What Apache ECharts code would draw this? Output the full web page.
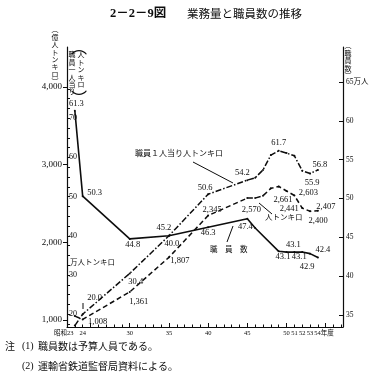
<!DOCTYPE html>
<html><head><meta charset="utf-8">
<script src="https://cdn.jsdelivr.net/npm/echarts@6/dist/echarts.min.js"></script>
<style>html,body{margin:0;padding:0;background:#fff}#c{width:374px;height:380px}</style>
</head><body><div id="c"></div>
<script>
// ---- data (昭和 年度) ----
const staffYears  = [23,24,30,35,40,45,46,49,50,51,52,53,54];
const staffValues = [61.3,50.3,44.8,45.2,46.3,47.4,46.2,43.2,43.1,43.1,43.1,42.9,42.4];          // 職員数 (万人)
const tonkmYears  = [23,24,30,35,40,45,46,47,48,49,50,51,52,53,54];
const tonkmValues = [1050,1008,1361,1807,2345,2570,2570,2600,2695,2720,2661,2603,2441,2400,2407]; // 人トンキロ (億)
const perYears    = [23,24,30,35,40,45,46,47,48,49,50,51,52,53,54];
const perValues   = [17.1,20.0,30.4,40.0,50.6,54.2,54.8,56.8,60.6,61.7,61.1,60.4,56.6,55.9,56.8]; // 職員1人当り (万人トンキロ)
const xLabelYears = [23,24,30,35,40,45,50,51,52,53,54];
const staffTicks  = [35,40,45,50,55,60,65];
const tonkmTicks  = [1000,2000,3000,4000];
const perTicks    = [20,30,40,50,60,70];

// ---- styling: label offsets keyed by year ----
const staffLabelOff = {23:[1.5,-7],24:[12,-3],30:[3,6],35:[-5,-8.5],40:[0,6],45:[-2,8.5],50:[-3.5,5],51:[-1,-7],52:[-3,5],53:[-3,13],54:[5,-7.5]};
const tonkmLabelOff = {24:[15,2],30:[9,10],35:[11,3.5],40:[4,-5.5],45:[4,12],50:[-3.5,9],51:[14,-3],52:[-13,1],53:[8,9.5],54:[8,-4]};
const perLabelOff   = {24:[12,-16],30:[6,8],35:[3,7.5],40:[-3,-6],45:[-5,-7],49:[0,-8],53:[2,9],54:[2,-5]};

const FF = '"Liberation Serif","Noto Sans CJK JP",serif';
const FJ = '"Noto Sans CJK JP",sans-serif';
const INK = '#0d0d0d';

function pts(years, vals, offs, fmt){
  return years.map((y,i)=>{
    const item = {value:[y, vals[i]]};
    const o = offs[y];
    if (o) item.label = {show:true, position:'inside', offset:o, formatter: fmt(vals[i])};
    return item;
  });
}
const f1 = v => v.toFixed(1);
const fc = v => v.toLocaleString('en-US');

const xTickAll = []; for (let y=22; y<=57; y++) xTickAll.push(y);
const xTickMajor = [25,30,35,40,45,50,55];
const perTickAll = []; for (let v=17.5; v<=77.5; v+=2.5) perTickAll.push(v);

const chart = echarts.init(document.getElementById('c'), null, {renderer:'canvas', width:374, height:380});

const baseLabel = {show:false, fontSize:8.5, fontFamily:FF, color:INK};

function vtext(x, y, str, size, lh){
  return {type:'text', x:x, y:y, style:{text:str.split('').join('\n'), fontSize:size, lineHeight:lh, fontFamily:FJ, fill:INK, align:'center', verticalAlign:'top'}};
}
function txt(x, y, str, size, fam, extra){
  return {type:'text', x:x, y:y, style:Object.assign({text:str, fontSize:size, fontFamily:fam||FF, fill:INK, align:'left', verticalAlign:'middle'}, extra||{})};
}
function seg(x1,y1,x2,y2){
  return {type:'line', shape:{x1:x1,y1:y1,x2:x2,y2:y2}, style:{stroke:INK, lineWidth:1}};
}

chart.setOption({
  animation:false,
  backgroundColor:'#fff',
  grid:{left:67, right:31, top:47, bottom:53, containLabel:false, outerBoundsMode:'none'},
  xAxis:[
    {type:'value', min:22, max:57.2, position:'bottom',
     axisLine:{show:true, lineStyle:{color:INK, width:1.2}},
     axisTick:{show:true, inside:true, length:2.5, customValues:xTickAll, lineStyle:{color:INK}},
     axisLabel:{show:true, customValues:xLabelYears, fontSize:6.5, fontFamily:FF, color:INK, margin:3,
       formatter:v => v===23 ? '{l|昭和23}' : (v===54 ? '{r|54年度}' : String(v)),
       rich:{l:{fontSize:6.5, fontFamily:FF, color:INK, padding:[0,22,0,0]}, r:{fontSize:6.5, fontFamily:FF, color:INK, padding:[0,0,0,12]}}},
     splitLine:{show:false}},
    {type:'value', min:22, max:57.2, position:'bottom',
     axisLine:{show:false},
     axisTick:{show:true, inside:true, length:4, customValues:xTickMajor, lineStyle:{color:INK}},
     axisLabel:{show:false}, splitLine:{show:false}}
  ],
  yAxis:[
    {type:'value', position:'right', min:33.455, max:69.506,
     axisLine:{show:true, lineStyle:{color:INK, width:1.2}},
     axisTick:{show:true, inside:true, length:4, customValues:staffTicks, lineStyle:{color:INK}},
     axisLabel:{show:true, customValues:staffTicks, fontSize:7.5, fontFamily:FF, color:INK, margin:3,
       formatter:v => v===65 ? '65万人' : String(v)},
     splitLine:{show:false}},
    {type:'value', position:'left', min:909.9, max:4515,
     axisLine:{show:false},
     axisTick:{show:true, inside:false, length:4, customValues:tonkmTicks, lineStyle:{color:INK}},
     axisLabel:{show:true, customValues:tonkmTicks, fontSize:9, fontFamily:FF, color:INK, margin:5,
       formatter:v => v.toLocaleString('en-US')},
     splitLine:{show:false}},
    {type:'value', position:'left', min:16.735, max:88.16,
     axisLine:{show:true, lineStyle:{color:INK, width:1.2}},
     axisTick:{show:true, inside:true, length:3, customValues:perTickAll, lineStyle:{color:INK}},
     axisLabel:{show:true, inside:true, customValues:perTicks, fontSize:8, fontFamily:FF, color:INK, margin:2},
     splitLine:{show:false}}
  ],
  series:[
    {type:'line', name:'職員数', xAxisIndex:0, yAxisIndex:0, clip:false,
     data:pts(staffYears, staffValues, staffLabelOff, f1),
     symbol:'circle', symbolSize:2, itemStyle:{color:INK},
     lineStyle:{color:INK, width:1.6, type:'solid'}, label:baseLabel},
    {type:'line', name:'人トンキロ', xAxisIndex:0, yAxisIndex:1, clip:false,
     data:pts(tonkmYears, tonkmValues, tonkmLabelOff, fc),
     symbol:'circle', symbolSize:2, itemStyle:{color:INK},
     lineStyle:{color:INK, width:1.5, type:[5,3]}, label:baseLabel},
    {type:'line', name:'職員1人当り人トンキロ', xAxisIndex:0, yAxisIndex:2, clip:false,
     data:pts(perYears, perValues, perLabelOff, f1),
     symbol:'circle', symbolSize:2, itemStyle:{color:INK},
     lineStyle:{color:INK, width:1.5, type:[6,2,1.5,2]}, label:baseLabel}
  ],
  graphic:[
    txt(110, 14, '2－2－9図', 12.5, FF, {fontWeight:'bold'}),
    txt(187, 14, '業務量と職員数の推移', 11.5, FJ),
    // axis names
    vtext(55, 26, '︵億人トンキロ︶', 7, 7.4),
    txt(79, 47, '︵', 16, FJ, {align:'center'}),
    vtext(81, 51, '人トンキロ', 7, 7.4),
    vtext(72, 51, '職員一人当り', 7, 7.4),
    txt(79, 98, '︶', 16, FJ, {align:'center'}),
    vtext(348, 42, '︵職員数︶', 7, 7.4),
    txt(70, 262, '万人トンキロ', 7.5, FJ),
    // series annotations
    txt(135, 153, '職員１人当り人トンキロ', 8, FJ),
    seg(193, 162, 233, 183),
    txt(265, 217, '人トンキロ', 7.5, FJ),
    seg(259, 203, 272, 214),
    txt(210, 249, '職　員　数', 7.5, FJ),
    seg(227, 242, 233, 226),
    seg(83, 303, 83, 309),
    // notes
    txt(5, 346, '注', 10, FJ),
    txt(22, 346, '(1)', 10, FF),
    txt(38, 346, '職員数は予算人員である。', 10, FJ),
    txt(22, 366, '(2)', 10, FF),
    txt(38, 366, '運輸省鉄道監督局資料による。', 10, FJ)
  ]
});
</script></body></html>
